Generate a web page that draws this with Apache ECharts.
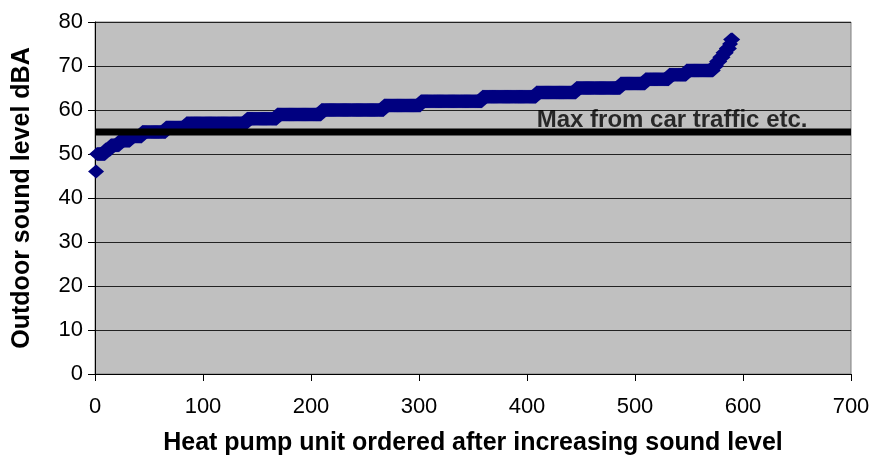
<!DOCTYPE html>
<html>
<head>
<meta charset="utf-8">
<script src="https://cdn.jsdelivr.net/npm/echarts@6/dist/echarts.min.js"></script>
<style>
html,body{margin:0;padding:0;background:#fff;}
#chart{width:873px;height:461px;}
</style>
</head>
<body>
<div id="chart"></div>
<script>
// Sorted sound levels (dBA) and how many heat pump units share each level
const soundLevels = [46, 50, 51, 52, 53, 54, 55, 56, 57, 58, 59, 60, 61, 62, 63, 64, 65, 66, 67, 68, 69, 70, 71, 72, 73, 74, 75, 76];
const unitCounts  = [ 1,  8,  5,  8, 10, 11, 22, 19, 56, 28, 41, 58, 34, 57, 50, 37, 41, 23, 22, 16, 25,  3,  3,  3,  3,  3,  1,  2];
const firstUnitIndex = 1;
const xTicks = [0, 100, 200, 300, 400, 500, 600, 700];
const yTicks = [0, 10, 20, 30, 40, 50, 60, 70, 80];
const maxTrafficLevel = 55;
const maxTrafficLabel = 'Max from car traffic etc.';
const maxTrafficLabelX = 409;
const xTitle = 'Heat pump unit ordered after increasing sound level';
const yTitle = 'Outdoor sound level dBA';

// Expand level counts into one point per unit (ordered list)
const points = [];
let idx = firstUnitIndex;
soundLevels.forEach((lvl, i) => {
  for (let k = 0; k < unitCounts[i]; k++) { points.push([idx, lvl]); idx++; }
});

const chart = echarts.init(document.getElementById('chart'), null, {renderer: 'canvas'});
const font = 'Arial, "Liberation Sans", sans-serif';
chart.setOption({
  animation: false,
  backgroundColor: '#ffffff',
  grid: {
    left: 95, right: 22, top: 22, bottom: 86,
    show: true, backgroundColor: '#c0c0c0', borderColor: '#808080', borderWidth: 1
  },
  xAxis: {
    type: 'value', min: xTicks[0], max: xTicks[xTicks.length - 1], interval: 100,
    name: xTitle, nameLocation: 'middle', nameGap: 57,
    nameTextStyle: {fontFamily: font, fontSize: 25, fontWeight: 'bold', color: '#000'},
    axisLine: {show: true, lineStyle: {color: '#000', width: 1}},
    axisTick: {show: true, length: 7, lineStyle: {color: '#000'}},
    axisLabel: {fontFamily: font, fontSize: 22, color: '#000', margin: 22},
    splitLine: {show: false}
  },
  yAxis: {
    type: 'value', min: yTicks[0], max: yTicks[yTicks.length - 1], interval: 10,
    name: yTitle, nameLocation: 'middle', nameGap: 60,
    nameTextStyle: {fontFamily: font, fontSize: 25, fontWeight: 'bold', color: '#000'},
    axisLine: {show: true, lineStyle: {color: '#000', width: 1}},
    axisTick: {show: true, length: 7, lineStyle: {color: '#000'}},
    axisLabel: {fontFamily: font, fontSize: 22, color: '#000', margin: 12},
    splitLine: {show: true, lineStyle: {color: '#222', width: 1}}
  },
  series: [
    {
      type: 'scatter',
      data: points,
      symbol: 'diamond',
      symbolSize: [16, 14],
      itemStyle: {color: '#000080', opacity: 1},
      z: 2
    },
    {
      type: 'line',
      data: [[xTicks[0], maxTrafficLevel], [xTicks[xTicks.length - 1], maxTrafficLevel]],
      showSymbol: false,
      symbol: 'none',
      lineStyle: {color: '#000', width: 7},
      z: 3
    },
    {
      type: 'scatter',
      data: [[maxTrafficLabelX, maxTrafficLevel]],
      symbolSize: 0,
      label: {
        show: true, position: [0, 0], align: 'left', verticalAlign: 'bottom',
        formatter: maxTrafficLabel,
        fontFamily: font, fontSize: 24, fontWeight: 'bold', color: '#000'
      },
      z: 4
    }
  ]
});
</script>
</body>
</html>
